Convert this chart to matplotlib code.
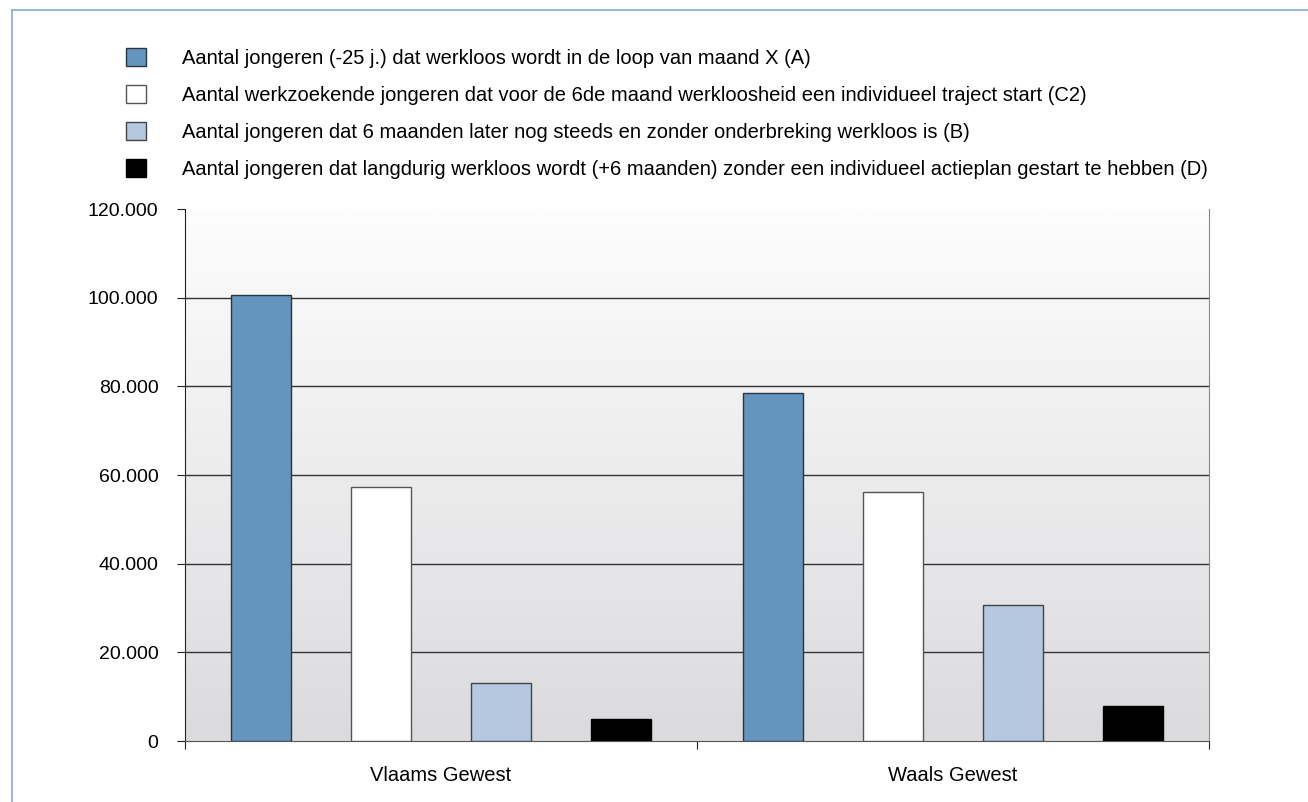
import matplotlib.pyplot as plt
import numpy as np
from matplotlib.lines import Line2D
from matplotlib.colors import LinearSegmentedColormap

plt.rcParams['font.family'] = ['Liberation Sans', 'DejaVu Sans']

# data
regions = ['Vlaams Gewest', 'Waals Gewest']
series_labels = [
    'Aantal jongeren (-25 j.) dat werkloos wordt in de loop van maand X (A)',
    'Aantal werkzoekende jongeren dat voor de 6de maand werkloosheid een individueel traject start (C2)',
    'Aantal jongeren dat 6 maanden later nog steeds en zonder onderbreking werkloos is (B)',
    'Aantal jongeren dat langdurig werkloos wordt (+6 maanden) zonder een individueel actieplan gestart te hebben (D)',
]
vals_A = [100500, 78400]
vals_C2 = [57300, 56100]
vals_B = [13100, 30600]
vals_D = [5000, 7900]
series = [vals_A, vals_C2, vals_B, vals_D]
colors = ['#6495bf', '#ffffff', '#b4c9df', '#000000']
edges = ['#2a3540', '#555555', '#444444', '#000000']
yticks = [0, 20000, 40000, 60000, 80000, 100000, 120000]
ytick_labels = ['0', '20.000', '40.000', '60.000', '80.000', '100.000', '120.000']

fig = plt.figure(figsize=(13.08, 8.02), dpi=100)
ax = fig.add_axes([185 / 1308, 1 - 741 / 802, (1209 - 185) / 1308, (741 - 209) / 802])

# gradient background
grad = np.linspace(0, 1, 256).reshape(-1, 1)
cmap = LinearSegmentedColormap.from_list('bg', ['#dbdbde', '#fdfdfd'])
ax.imshow(grad, aspect='auto', cmap=cmap, origin='lower',
          extent=[-0.5, 1.5, 0, 120000], zorder=0)

x = np.arange(len(regions))
step = 0.234
width = 0.117
handles = []
for i, vals in enumerate(series):
    b = ax.bar(x + (i - 1.5) * step, vals, width, color=colors[i],
               edgecolor=edges[i], linewidth=1, zorder=3)
    handles.append(b)

for yv in yticks[1:-1]:
    ax.axhline(yv, color='#333333', linewidth=1, zorder=1)

ax.set_xlim(-0.5, 1.5)
ax.set_ylim(0, 120000)
ax.set_yticks(yticks)
ax.set_yticklabels(ytick_labels, fontsize=14)
ax.set_xticks([-0.5, 0.5, 1.5])
ax.set_xticklabels([])
ax.set_xticks(x, minor=True)
ax.set_xticklabels(regions, minor=True, fontsize=14.5)
ax.tick_params(axis='x', which='minor', length=0, pad=18)
ax.tick_params(axis='x', which='major', length=6, direction='out', color='#222222')
ax.tick_params(axis='y', length=6, direction='out', color='#222222', pad=13)
ax.spines['top'].set_visible(False)
ax.spines['right'].set_color('#888888')
ax.spines['bottom'].set_color('#555555')
ax.spines['left'].set_color('#222222')

fig.legend(handles, series_labels, loc='upper left', bbox_to_anchor=(108 / 1308, 1 - 30 / 802),
           frameon=False, fontsize=14.5, handlelength=1.0, handleheight=1.0,
           handletextpad=1.75, labelspacing=0.85)

# blue frame around the figure
fig.add_artist(Line2D([12 / 1308, 1], [1 - 10 / 802, 1 - 10 / 802], color='#86acd2', linewidth=1.2))
fig.add_artist(Line2D([12 / 1308, 12 / 1308], [0, 1 - 10 / 802], color='#86acd2', linewidth=1.2))

fig.savefig('out.png', dpi=100)
